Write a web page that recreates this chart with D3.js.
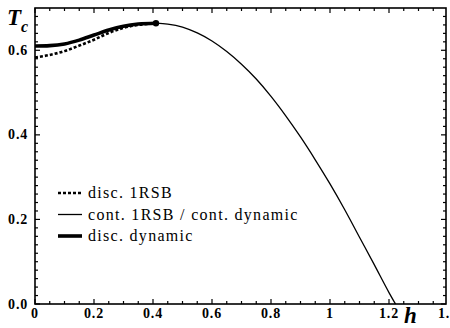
<!DOCTYPE html>
<html>
<head>
<meta charset="utf-8">
<script src="https://cdn.jsdelivr.net/npm/d3@7"></script>
<style>
  body { margin: 0; background: #fff; }
  svg { display: block; }
  svg text { font-family: "Liberation Serif", "DejaVu Serif", serif; }
</style>
</head>
<body>
<div id="chart"></div>
<script>
// curve data: [h, Tc]
var disc1RSB = [[0, 0.583], [0.05, 0.589], [0.1, 0.598], [0.15, 0.611], [0.2, 0.625],
    [0.25, 0.641], [0.3, 0.653], [0.35, 0.66], [0.41, 0.664]];
var discDynamic = [[0, 0.61], [0.05, 0.611], [0.1, 0.615], [0.15, 0.624], [0.2, 0.636],
    [0.25, 0.648], [0.3, 0.657], [0.35, 0.662], [0.41, 0.664]];
var cont1RSB = [[0.41, 0.664], [0.45, 0.662], [0.5, 0.655], [0.55, 0.641], [0.6, 0.622],
    [0.65, 0.597], [0.7, 0.567], [0.75, 0.532], [0.8, 0.491], [0.85, 0.445], [0.9, 0.395],
    [0.95, 0.341], [1.0, 0.284], [1.05, 0.223], [1.1, 0.158], [1.15, 0.093], [1.2, 0.027], [1.222, 0]];
var tricritical = [[0.41, 0.664]];

var xTicks = [0, 0.2, 0.4, 0.6, 0.8, 1, 1.2, 1.4];
var xTickLabels = ["0", "0.2", "0.4", "0.6", "0.8", "1", "1.2", "1.4"];
var yTicks = [0, 0.2, 0.4, 0.6];
var yTickLabels = ["0.0", "0.2", "0.4", "0.6"];
var legendLabels = ["disc. 1RSB", "cont. 1RSB / cont. dynamic", "disc. dynamic"];

var width = 450, height = 328;
var frameL = 35, frameR = 446, frameT = 8, frameB = 304;

var svg = d3.select("#chart").append("svg")
    .attr("width", width)
    .attr("height", height);

var x = d3.scaleLinear().domain([0, 1.4]).range([frameL, 448]);
var y = d3.scaleLinear().domain([0, 0.7]).range([frameB, frameT]);

// frame
svg.append("rect")
    .attr("x", frameL).attr("y", frameT)
    .attr("width", frameR - frameL).attr("height", frameB - frameT)
    .attr("fill", "none").attr("stroke", "#000").attr("stroke-width", 1.6);

// ticks on all four sides, pointing in
var xMinor = d3.range(0, 1.4, 0.05).filter(function (v) { return x(v) < frameR - 1; });
var yMinor = d3.range(0, 0.7, 0.02);
function isMajor(v, step) { return Math.abs(v / step - Math.round(v / step)) < 1e-6; }

var ticks = svg.append("g").attr("stroke", "#000").attr("stroke-width", 1.2);
xMinor.forEach(function (v) {
    var len = isMajor(v, 0.2) ? 5 : 3;
    ticks.append("line").attr("x1", x(v)).attr("x2", x(v)).attr("y1", frameB).attr("y2", frameB - len);
    ticks.append("line").attr("x1", x(v)).attr("x2", x(v)).attr("y1", frameT).attr("y2", frameT + len);
});
yMinor.forEach(function (v) {
    var len = isMajor(v, 0.2) ? 5 : 3;
    ticks.append("line").attr("y1", y(v)).attr("y2", y(v)).attr("x1", frameL).attr("x2", frameL + len);
    ticks.append("line").attr("y1", y(v)).attr("y2", y(v)).attr("x1", frameR).attr("x2", frameR - len);
});

// tick labels
svg.append("g").selectAll("text").data(xTicks).enter().append("text")
    .attr("x", function (d) { return x(d); })
    .attr("y", 318)
    .attr("text-anchor", "middle")
    .style("font-size", "14px").style("font-weight", "bold").style("letter-spacing", "0.8px")
    .text(function (d, i) { return xTickLabels[i]; });

svg.append("g").selectAll("text").data(yTicks).enter().append("text")
    .attr("x", 28)
    .attr("y", function (d) { return y(d) + 4.5; })
    .attr("text-anchor", "end")
    .style("font-size", "14px").style("font-weight", "bold").style("letter-spacing", "0.8px")
    .text(function (d, i) { return yTickLabels[i]; });

// axis titles
var tLabel = svg.append("text").attr("x", 7).attr("y", 25)
    .style("font-size", "23px").style("font-weight", "bold").style("font-style", "italic");
tLabel.append("tspan").text("T");
tLabel.append("tspan").attr("dx", 0).attr("dy", 7)
    .style("font-size", "16px").text("c");

svg.append("text").attr("x", 404).attr("y", 323)
    .style("font-size", "23px").style("font-weight", "bold").style("font-style", "italic")
    .text("h");

// curves
var line = d3.line()
    .x(function (d) { return x(d[0]); })
    .y(function (d) { return y(d[1]); })
    .curve(d3.curveMonotoneX);

svg.append("path").datum(cont1RSB).attr("d", line)
    .attr("fill", "none").attr("stroke", "#000").attr("stroke-width", 1.3);
svg.append("path").datum(disc1RSB).attr("d", line)
    .attr("fill", "none").attr("stroke", "#000").attr("stroke-width", 2.6)
    .attr("stroke-dasharray", "3,2");
svg.append("path").datum(discDynamic).attr("d", line)
    .attr("fill", "none").attr("stroke", "#000").attr("stroke-width", 3.6);
svg.selectAll(".dot").data(tricritical).enter().append("circle")
    .attr("class", "dot")
    .attr("cx", function (d) { return x(d[0]); })
    .attr("cy", function (d) { return y(d[1]); })
    .attr("r", 3.2).attr("fill", "#000");

// legend
var legend = svg.append("g");
var styles = [
    { w: 2.6, dash: "3,2" },
    { w: 1.3, dash: null },
    { w: 3.6, dash: null }
];
legendLabels.forEach(function (lab, i) {
    var ly = 193 + i * 21.5;
    legend.append("line")
        .attr("x1", 58).attr("x2", 82).attr("y1", ly).attr("y2", ly)
        .attr("stroke", "#000").attr("stroke-width", styles[i].w)
        .attr("stroke-dasharray", styles[i].dash);
    legend.append("text").attr("x", 88).attr("y", ly + 5)
        .style("font-size", "16px").style("letter-spacing", "1.3px").text(lab);
});
</script>
</body>
</html>
